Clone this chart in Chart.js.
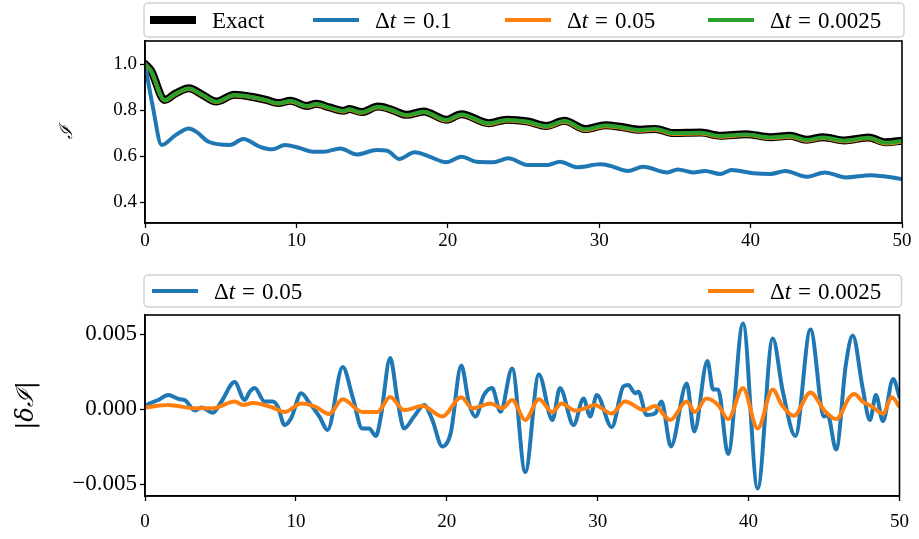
<!DOCTYPE html>
<html>
<head>
<meta charset="utf-8">
<script src="https://cdn.jsdelivr.net/npm/chart.js@4/dist/chart.umd.min.js"></script>
<style>
  html, body { margin: 0; padding: 0; background: #fff; }
  #wrap { position: relative; width: 919px; height: 539px; }
  .panel { position: absolute; left: 0; width: 919px; }
</style>
</head>
<body>
<div id="wrap">
  <div class="panel" style="top:0;height:270px"><canvas id="top" width="919" height="270"></canvas></div>
  <div class="panel" style="top:270px;height:269px"><canvas id="bottom" width="919" height="269"></canvas></div>
</div>
<script>
// ---- data: top panel, I(t)
const topT = [0, 0.4, 1.3, 2.0, 2.9, 3.8, 4.7, 5.9, 6.9, 8.0, 8.8, 9.6, 10.7, 11.3, 12.2, 13.1, 13.5, 14.3, 15.4, 16.3,
  17.3, 18.4, 19.9, 20.9, 22.7, 23.9, 25.3, 26.5, 27.7, 29.1, 30.4, 31.5, 32.7, 33.7, 34.9, 36.7, 38.0, 39.7, 41.3, 42.6,
  43.7, 44.8, 46.2, 47.8, 48.9, 50]
const exactI = [1.0, 0.971, 0.844, 0.871, 0.895, 0.866, 0.837, 0.866, 0.859, 0.844, 0.83, 0.84, 0.818, 0.827, 0.811, 0.797,
  0.804, 0.791, 0.815, 0.801, 0.779, 0.794, 0.758, 0.782, 0.743, 0.758, 0.75, 0.731, 0.753, 0.717, 0.734, 0.726, 0.714, 0.718,
  0.7, 0.702, 0.688, 0.695, 0.682, 0.688, 0.671, 0.682, 0.668, 0.681, 0.66, 0.667]
const dt005I = [1.0, 0.969, 0.842, 0.869, 0.893, 0.864, 0.835, 0.864, 0.857, 0.842, 0.828, 0.837, 0.815, 0.824, 0.808, 0.794,
  0.801, 0.788, 0.812, 0.798, 0.776, 0.791, 0.754, 0.778, 0.739, 0.754, 0.746, 0.727, 0.749, 0.713, 0.73, 0.722, 0.71, 0.714,
  0.696, 0.698, 0.684, 0.691, 0.678, 0.684, 0.667, 0.678, 0.664, 0.677, 0.655, 0.662]
const dt0025I = [1.0, 0.97, 0.843, 0.87, 0.894, 0.865, 0.836, 0.865, 0.858, 0.843, 0.829, 0.839, 0.817, 0.826, 0.81, 0.796,
  0.803, 0.79, 0.814, 0.8, 0.778, 0.793, 0.757, 0.781, 0.742, 0.757, 0.749, 0.73, 0.752, 0.716, 0.733, 0.725, 0.713, 0.717,
  0.699, 0.701, 0.687, 0.694, 0.681, 0.687, 0.67, 0.681, 0.667, 0.68, 0.658, 0.665]

const dt01T = [0, 0.5, 1.1, 2.0, 2.9, 3.4, 4.2, 5.6, 6.5, 7.6, 8.4, 9.25, 10.2, 11.1, 11.8, 12.9, 14.0, 15.3, 16.0, 16.8,
  17.8, 18.7, 19.9, 20.9, 21.9, 23.0, 24.0, 25.3, 26.6, 27.4, 28.6, 30.05, 30.7, 31.9, 32.9, 34.5, 35.2, 36.2, 37.0, 38.0,
  38.75, 40.2, 41.3, 42.3, 43.7, 44.9, 46.3, 47.9, 49.0, 50.0]
const dt01I = [1.0, 0.82, 0.648, 0.69, 0.72, 0.705, 0.662, 0.648, 0.674, 0.64, 0.629, 0.648, 0.635, 0.619, 0.619, 0.633,
  0.607, 0.626, 0.623, 0.587, 0.616, 0.6, 0.573, 0.597, 0.575, 0.573, 0.59, 0.561, 0.561, 0.575, 0.551, 0.564, 0.558, 0.535,
  0.553, 0.529, 0.542, 0.529, 0.535, 0.522, 0.539, 0.525, 0.522, 0.535, 0.51, 0.529, 0.507, 0.517, 0.51, 0.5]

// ---- data: bottom panel, error |dI|
const err005T = [0, 0.1, 0.88, 1.54, 2.3, 2.64, 3.3, 3.74, 4.5, 5.07, 5.94, 6.6, 6.94, 7.27, 7.93, 8.47, 8.8, 9.25, 9.69,
  10.35, 10.9, 11.56, 12.1, 13.1, 13.76, 14.4, 14.86, 15.3, 15.63, 16.25, 16.73, 17.17, 17.83, 18.5, 19.04, 19.7, 20.26,
  20.96, 21.47, 21.9, 22.46, 23.0, 23.56, 24.33, 25.2, 26.1, 27.0, 27.5, 28.4, 29.06, 29.5, 29.94, 30.93, 31.7, 32.03,
  32.48, 32.7, 33.24, 33.8, 34.23, 34.85, 35.9, 36.4, 37.27, 37.65, 37.98, 38.64, 39.63, 40.6, 41.6, 42.27, 43.1, 44.1,
  45.0, 45.24, 45.8, 46.45, 46.9, 47.56, 48.04, 48.44, 48.9, 49.58, 50]
const err005V = [0.0002, 0.00027, 0.0006, 0.00093, 0.00065, 0.0006, -0.0001, 0.0001, -0.00025, 0.0005, 0.0018, 0.0006,
  0.00115, 0.0014, 0.0005, 0.0005, 0.00015, -0.00107, -0.0006, 0.00105, 0.0004, -0.0005, -0.0014, 0.0028, 0.0008, -0.0013,
  -0.0013, -0.0018, -0.0005, 0.0034, 0.0006, -0.0013, -0.0005, 0.00027, -0.00073, -0.0025, -0.0016, 0.0029, 0.00038,
  -0.0005, 0.00093, 0.0014, -0.00018, 0.0027, -0.0042, 0.0023, -0.00073, 0.0014, -0.00107, 0.0007, -0.0005, 0.00093,
  -0.0012, 0.0015, 0.0016, 0.00105, 0.00115, -0.0004, -0.0003, 0.0005, -0.0025, 0.0017, -0.0015, 0.0032, 0.0013, 0.0013,
  -0.003, 0.0057, -0.0053, 0.0047, 0.00115, -0.0018, 0.0053, -0.0005, -0.0004, -0.0027, 0.003, 0.0049, 0.0014, -0.00073,
  0.00093, -0.0008, 0.002, 0.0008]

const err0025T = [0, 1.54, 3.3, 4.5, 5.94, 6.5, 7.15, 8.47, 9.25, 10.35, 11.3, 12.2, 13.1, 14.4, 15.4, 16.25, 17.17, 18.4,
  19.7, 20.96, 21.7, 22.9, 23.67, 24.33, 25.2, 26.1, 27.0, 27.6, 28.5, 29.3, 29.8, 30.93, 31.8, 33.1, 33.8, 34.8, 35.9,
  36.44, 37.2, 37.98, 38.64, 39.63, 40.6, 41.6, 42.2, 43.0, 44.1, 45.0, 45.8, 46.7, 47.0, 47.56, 48.2, 48.9, 49.5, 50]
const err0025V = [0.0001, 0.00027, 0.00005, 0.00005, 0.0005, 0.00027, 0.0004, 0.0001, -0.0002, 0.00037, 0.00015, -0.00033,
  0.00065, -0.0002, -0.0002, 0.0008, -0.00007, 0.0002, -0.0005, 0.00078, 0.00005, 0.00037, 0.00005, 0.0006, -0.00073,
  0.00065, -0.0002, 0.00037, -0.0001, 0.0001, 0.00027, -0.0003, 0.0005, -0.00007, 0.0002, -0.00073, 0.0005, -0.0002,
  0.0007, 0.00027, -0.00067, 0.0014, -0.0013, 0.0013, 0.00027, -0.00045, 0.0011, -0.00007, -0.00067, 0.0008, 0.001,
  0.0005, 0.00015, -0.0003, 0.00078, 0.00015]

// ---- tick labels
const xTicks = [0, 10, 20, 30, 40, 50]
const topYTicks = [0.4, 0.6, 0.8, 1.0]
const bottomYTicks = [-0.005, 0, 0.005]

const BLUE = '#1f77b4', ORANGE = '#ff7f0e', GREEN = '#2ca02c'
const SERIF = "'Liberation Serif', 'DejaVu Serif', serif"

const pts = (xs, ys) => xs.map((x, i) => ({ x, y: ys[i] }))

// four spines, like matplotlib
const frame = {
  id: 'frame',
  afterDatasetsDraw(chart) {
    const { ctx, chartArea: a } = chart
    ctx.save()
    ctx.strokeStyle = '#000'
    ctx.lineWidth = 1.6
    ctx.strokeRect(a.left, a.top, a.right - a.left, a.bottom - a.top)
    ctx.restore()
  }
}

// "Δt = 0.1" with an italic t and math-style gaps round "="
function drawLabel(ctx, label, x, y, size) {
  ctx.textBaseline = 'alphabetic'
  ctx.textAlign = 'left'
  const roman = `${size}px ${SERIF}`
  if (label.startsWith('Δt')) {
    const [, rhs] = label.split('=')
    ctx.font = roman
    ctx.fillText('Δ', x, y)
    x += ctx.measureText('Δ').width
    ctx.font = `italic ${size}px ${SERIF}`
    ctx.fillText('t', x, y)
    x += ctx.measureText('t').width + size * 0.3
    ctx.font = roman
    ctx.fillText('=', x, y)
    x += ctx.measureText('=').width + size * 0.3
    ctx.fillText(rhs.trim(), x, y)
  } else {
    ctx.font = roman
    ctx.fillText(label, x, y)
  }
}

// matplotlib style legend (expanded across the axes)
const mplLegend = {
  id: 'mplLegend',
  afterDraw(chart, args, opts) {
    const { ctx, chartArea: a } = chart
    const [y0, y1] = opts.box
    ctx.save()
    ctx.beginPath()
    ctx.roundRect(a.left - 1, y0, a.right - a.left + 3, y1 - y0, 4)
    ctx.fillStyle = 'rgba(255,255,255,0.8)'
    ctx.fill()
    ctx.strokeStyle = '#d0d0d0'
    ctx.lineWidth = 1.5
    ctx.stroke()
    const lineY = (y0 + y1) / 2
    chart.data.datasets.forEach((ds, i) => {
      const x = a.left + opts.offsets[i]
      ctx.beginPath()
      ctx.moveTo(x, lineY)
      ctx.lineTo(x + 46, lineY)
      ctx.strokeStyle = ds.borderColor
      ctx.lineWidth = ds.borderWidth
      ctx.stroke()
      ctx.fillStyle = '#000'
      drawLabel(ctx, ds.label, x + 62, lineY + 7.5, opts.fontSize)
    })
    ctx.restore()
  }
}

function axes(o) {
  return {
    x: {
      type: 'linear', min: 0, max: 50,
      afterBuildTicks: s => { s.ticks = xTicks.map(v => ({ value: v })) },
      afterFit: s => { s.height = o.xH },
      grid: { drawOnChartArea: false, drawTicks: true, tickLength: 5, tickWidth: 1.3, tickColor: '#000' },
      border: { display: true, color: '#000', width: 1.6 },
      ticks: { color: '#000', font: { family: SERIF, size: 19 }, padding: o.xPad, maxRotation: 0 }
    },
    y: {
      min: o.yMin, max: o.yMax,
      afterBuildTicks: s => { s.ticks = o.yTicks.map(v => ({ value: v })) },
      afterFit: s => { s.width = 145 },
      grid: { drawOnChartArea: false, drawTicks: true, tickLength: 5, tickWidth: 1.3, tickColor: '#000' },
      border: { display: true, color: '#000', width: 1.6 },
      ticks: { color: '#000', font: { family: SERIF, size: o.yTickSize }, padding: 3, callback: o.yFmt },
      title: { display: true, text: o.title, color: '#000',
        font: { family: "'DejaVu Serif', serif", size: o.titleSize, style: 'italic' },
        padding: { top: o.titlePad, bottom: 0 } }
    }
  }
}

const common = {
  responsive: false,
  animation: false,
  events: [],
  elements: { point: { radius: 0 }, line: { cubicInterpolationMode: 'monotone', borderCapStyle: 'round', borderJoinStyle: 'round' } }
}

new Chart(document.getElementById('top'), {
  type: 'line',
  data: {
    datasets: [
      { label: 'Exact', data: pts(topT, exactI), borderColor: '#000', borderWidth: 8, order: 4 },
      { label: 'Δt = 0.1', data: pts(dt01T, dt01I), borderColor: BLUE, borderWidth: 4, order: 3 },
      { label: 'Δt = 0.05', data: pts(topT, dt005I), borderColor: ORANGE, borderWidth: 4, order: 2 },
      { label: 'Δt = 0.0025', data: pts(topT, dt0025I), borderColor: GREEN, borderWidth: 4, order: 1 }
    ]
  },
  options: {
    ...common,
    layout: { padding: { left: 0, top: 41, right: 17, bottom: 0 } },
    scales: axes({ yMin: 0.309, yMax: 1.1, yTicks: topYTicks, yFmt: v => v.toFixed(1), title: 'ℐ',
      titleSize: 18, titlePad: 57, yTickSize: 19, xH: 47, xPad: 2 }),
    plugins: {
      legend: { display: false }, tooltip: { enabled: false },
      mplLegend: { box: [3, 37], offsets: [5, 168, 360, 563], fontSize: 23 }
    }
  },
  plugins: [frame, mplLegend]
})

new Chart(document.getElementById('bottom'), {
  type: 'line',
  data: {
    datasets: [
      { label: 'Δt = 0.05', data: pts(err005T, err005V), borderColor: BLUE, borderWidth: 4, order: 2 },
      { label: 'Δt = 0.0025', data: pts(err0025T, err0025V), borderColor: ORANGE, borderWidth: 4, order: 1 }
    ]
  },
  options: {
    ...common,
    layout: { padding: { left: 0, top: 45, right: 17, bottom: 0 } },
    scales: axes({ yMin: -0.0058, yMax: 0.00627, yTicks: bottomYTicks,
      yFmt: v => (v < 0 ? '−' : '') + Math.abs(v).toFixed(3), title: '|δℐ|',
      titleSize: 24, titlePad: 12, yTickSize: 23, xH: 43, xPad: 10 }),
    plugins: {
      legend: { display: false }, tooltip: { enabled: false },
      mplLegend: { box: [5, 37], offsets: [7, 563], fontSize: 23 }
    }
  },
  plugins: [frame, mplLegend]
})
</script>
</body>
</html>
